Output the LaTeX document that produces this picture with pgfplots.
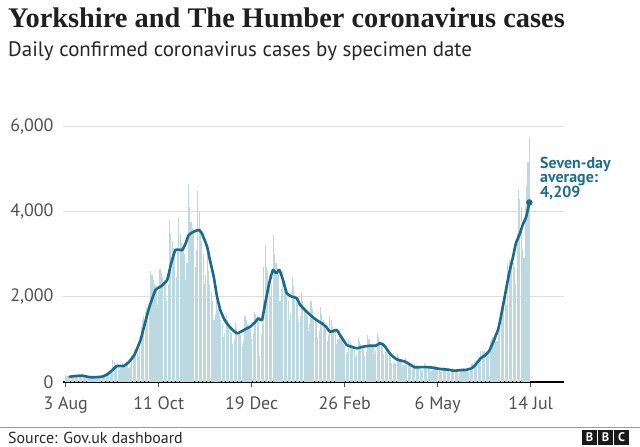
\documentclass[border=0pt]{standalone}
\usepackage{fontspec}
\setmainfont{PT Sans}
\newfontfamily\titlefont{Liberation Serif}
\usepackage{pgfplots}
\usepackage{pgfplotstable}
\pgfplotsset{compat=1.18}
\definecolor{linecol}{HTML}{1A6A89}
\definecolor{barcol}{HTML}{BCD9E2}
\definecolor{gridcol}{HTML}{DCDCDC}
\definecolor{tickcol}{HTML}{505050}
\definecolor{annocol}{HTML}{1D6E8E}

\pgfplotstableread[row sep=\\]{
y\\
159\\147\\135\\130\\124\\99\\113\\
185\\169\\153\\145\\137\\107\\121\\
150\\137\\123\\115\\107\\83\\93\\
135\\129\\122\\120\\118\\96\\111\\
150\\170\\200\\230\\260\\230\\300\\
520\\460\\410\\380\\360\\290\\330\\
450\\420\\390\\380\\400\\330\\400\\
600\\650\\700\\720\\760\\620\\800\\
1300\\1450\\1550\\1650\\1750\\1500\\1900\\
2600\\2500\\2400\\2300\\2250\\1800\\2100\\
2650\\2550\\2450\\2400\\2350\\1900\\2300\\
3800\\3500\\3300\\3150\\3050\\2450\\3100\\
3850\\3500\\3250\\3100\\3000\\2400\\2800\\
4650\\4100\\3750\\3600\\3450\\2700\\3100\\
4480\\4000\\3600\\3300\\3000\\2300\\2500\\
3000\\2600\\2300\\2100\\1900\\1450\\1600\\
1900\\1700\\1550\\1450\\1350\\1050\\1150\\
1600\\1450\\1300\\1250\\1150\\900\\1000\\
1400\\1300\\1200\\1150\\1100\\850\\950\\
1550\\1450\\1350\\1300\\1250\\1000\\1150\\
1650\\1600\\1550\\1500\\600\\1100\\1350\\
2700\\3200\\2700\\2600\\2500\\2000\\2300\\
3450\\3000\\2800\\2650\\2500\\1900\\2150\\
2600\\2350\\2150\\2000\\1900\\1450\\1600\\
2450\\2250\\2050\\1950\\1850\\1400\\1550\\
2100\\1900\\1750\\1650\\1550\\1200\\1350\\
1900\\1700\\1550\\1450\\1400\\1050\\1200\\
1750\\1600\\1450\\1350\\1250\\950\\1100\\
1550\\1450\\1300\\1250\\1200\\900\\1000\\
1250\\1100\\1000\\900\\850\\650\\700\\
1000\\950\\850\\800\\750\\580\\650\\
1050\\950\\880\\830\\800\\620\\700\\
1100\\1000\\900\\870\\830\\650\\750\\
1150\\1050\\950\\900\\850\\650\\700\\
850\\780\\700\\640\\450\\430\\460\\
420\\650\\580\\520\\480\\360\\400\\
560\\500\\450\\420\\390\\300\\330\\
450\\410\\370\\345\\325\\250\\280\\
440\\400\\365\\345\\325\\255\\285\\
400\\365\\330\\310\\290\\225\\250\\
360\\330\\300\\280\\265\\205\\230\\
335\\310\\285\\270\\260\\205\\230\\
330\\320\\300\\290\\290\\240\\280\\
430\\450\\470\\500\\520\\420\\530\\
720\\720\\700\\720\\730\\600\\720\\
950\\1000\\1050\\1100\\1150\\950\\1150\\
1500\\1600\\1750\\1900\\2000\\1800\\2800\\
2850\\2870\\2820\\2780\\2700\\2300\\3500\\
4500\\4300\\4100\\3100\\2900\\4100\\4600\\
5150\\5711\\
}\bars

\begin{document}
\begin{tikzpicture}
\useasboundingbox (0,0) rectangle (640bp,447bp);
\fill[white] (0,0) rectangle (640bp,447bp);
\node[anchor=base west, inner sep=0pt, font=\titlefont\bfseries\fontsize{28.5}{30}\selectfont, text=black!88] at (8bp,419.7bp) {Yorkshire and The Humber coronavirus cases};
\node[anchor=base west, inner sep=0pt, font=\fontsize{21}{24}\selectfont, text=black!85] at (8bp,390.3bp) {Daily confirmed coronavirus cases by specimen date};
\begin{axis}[
  at={(63bp,65bp)}, anchor=south west,
  scale only axis, width=501bp, height=256bp,
  xmin=-2, xmax=369.7, ymin=0, ymax=6000,
  xtick={0,69,138,207,276,345},
  xticklabels={3 Aug,11 Oct,19 Dec,26 Feb,6 May,14 Jul},
  ytick={0,2000,4000,6000},
  yticklabels={0,{2,000},{4,000},{6,000}},
  axis x line*=bottom, axis y line*=left,
  y axis line style={draw=none},
  x axis line style={draw=black, line width=1.1bp, -},
  ytick style={draw=none},
  xtick style={draw=tickcol, line width=1bp},
  tick align=outside,
  major tick length=5bp,
  ymajorgrids, grid style={draw=gridcol, line width=0.9bp},
  tick label style={font=\fontsize{18}{18}\selectfont, text=tickcol},
  xticklabel style={yshift=-6bp},
  yticklabel style={xshift=-1bp},
  clip=false,
]
\addplot[ycomb, draw=barcol, line width=1.1bp, no markers] table[x expr=\coordindex, y=y] {\bars};
\addplot[linecol, line width=2.6bp, line join=round, line cap=round, smooth, tension=0.3, no markers] coordinates {
(3,125)(8,140)(12,150)(16,125)(19,110)(23,115)(27,125)(31,180)(35,290)(38,375)(43,375)(47,470)(51,640)(55.5,985)(59,1400)(62,1750)(66.6,2156)(70.3,2234)(75.3,2391)(78,2750)(81.4,3094)(86.4,3094)(89,3250)(91.3,3445)(95,3523)(98.7,3563)(101,3485)(104.9,3172)(107,2860)(109.8,2469)(112.3,2000)(114.7,1688)(118,1450)(122,1280)(127,1141)(130,1180)(134.5,1258)(137,1297)(141,1420)(143,1493)(145.6,1453)(148,1844)(151,2313)(153.7,2625)(156.2,2548)(158.6,2625)(161.6,2351)(164,2079)(167.8,2000)(171.5,1962)(174,1805)(180,1610)(186,1453)(190,1375)(193,1300)(196,1180)(199,1200)(201,1219)(204,1080)(208.5,867)(212,828)(216,790)(221,830)(226,851)(230,850)(233,907)(235,890)(237,828)(241,650)(245.5,532)(249,500)(252,476)(256,400)(259,345)(265,350)(270,345)(275,320)(280,297)(284,290)(287.5,265)(292,275)(297,285)(301,320)(304,400)(308,560)(311,620)(314,720)(316,850)(318,1000)(321,1250)(323,1550)(325.7,2000)(329,2548)(332,2950)(334,3250)(337,3480)(339,3680)(341.7,3875)(344,4209)
};
\addplot[only marks, mark=*, mark size=3bp, color=linecol] coordinates {(344,4209)};
\end{axis}
\begin{scope}[every node/.style={anchor=base west, inner sep=0pt, font=\bfseries\fontsize{16}{16}\selectfont, text=annocol}]
\node at (540bp,278.7bp) {Seven-day};
\node at (540bp,264.2bp) {average:};
\node at (540bp,249.7bp) {4,209};
\end{scope}
\draw[draw=black!40, line width=1bp] (0,19.3bp) -- (640bp,19.3bp);
\node[anchor=base west, inner sep=0pt, font=\fontsize{16}{16}\selectfont, text=black!85] at (8bp,4bp) {Source: Gov.uk dashboard};
\foreach \i/\l in {0/B,1/B,2/C}{
  \fill[black!90] ({582bp+\i*16bp},2bp) rectangle ({597bp+\i*16bp},17bp);
  \node[anchor=center, inner sep=0pt, text=white, font=\bfseries\fontsize{12.5}{12.5}\selectfont] at ({589.5bp+\i*16bp},9.5bp) {\l};
}
\end{tikzpicture}
\end{document}
